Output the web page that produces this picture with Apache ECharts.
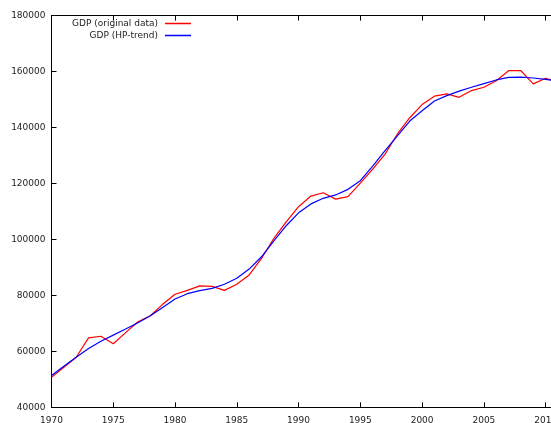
<!DOCTYPE html>
<html>
<head>
<meta charset="utf-8">
<script src="https://cdn.jsdelivr.net/npm/echarts@6/dist/echarts.min.js"></script>
<style>
html,body{margin:0;padding:0;background:#fff;}
#chart{width:551px;height:423px;}
</style>
</head>
<body>
<div id="chart"></div>
<script>
const years = [1970,1971,1972,1973,1974,1975,1976,1977,1978,1979,1980,1981,1982,1983,1984,1985,1986,1987,1988,1989,1990,1991,1992,1993,1994,1995,1996,1997,1998,1999,2000,2001,2002,2003,2004,2005,2006,2007,2008,2009,2010,2011];
const gdpOriginal = [50700,54300,57900,64800,65400,62700,66700,70600,72700,76800,80400,81800,83400,83200,81800,84000,87300,93200,100400,106300,111700,115500,116700,114400,115300,120100,125100,130500,137700,143500,148200,151200,152000,150800,153200,154400,156700,160300,160300,155600,157600,156200];
const gdpTrend = [51400,54700,57900,61000,63600,65800,68000,70200,72700,75700,78700,80600,81700,82500,84000,86100,89400,93800,99500,104900,109500,112700,114700,115900,117900,121000,126200,131700,137000,142300,146000,149500,151400,153000,154400,155700,157000,157900,158000,157700,157200,156600];
const seriesNames = ['GDP (original data)', 'GDP (HP-trend)'];

const font = 'DejaVu Sans';
const plain = v => String(v);
const chart = echarts.init(document.getElementById('chart'));
const legendBase = {
  orient: 'vertical', align: 'right', right: 360, padding: 0,
  icon: 'rect', itemWidth: 26, itemHeight: 1.5, itemGap: 4,
  textStyle: {fontFamily: font, fontSize: 9, color: '#222', padding: [0, 2, 0, 0]}
};
chart.setOption({
  animation: false,
  backgroundColor: '#fff',
  grid: {left: 51.5, right: -7, top: 15.6, bottom: 15.7, containLabel: false, outerBoundsMode: 'none'},
  legend: [
    Object.assign({}, legendBase, {data: [seriesNames[0]], top: 19}),
    Object.assign({}, legendBase, {data: [seriesNames[1]], top: 31})
  ],
  xAxis: [
    {type: 'value', min: 1970, max: 2011, interval: 5, position: 'bottom',
     axisLine: {lineStyle: {color: '#000', width: 1}},
     axisTick: {inside: true, length: 5, lineStyle: {color: '#000'}},
     axisLabel: {fontFamily: font, fontSize: 9, color: '#222', margin: 9, formatter: plain},
     splitLine: {show: false}},
    {type: 'value', min: 1970, max: 2011, interval: 5, position: 'top',
     axisLine: {show: true, onZero: false, lineStyle: {color: '#000', width: 1}},
     axisTick: {show: true, inside: true, length: 5, lineStyle: {color: '#000'}},
     axisLabel: {show: false},
     splitLine: {show: false}}
  ],
  yAxis: {type: 'value', min: 40000, max: 180000, interval: 20000,
    axisLine: {show: true, lineStyle: {color: '#000', width: 1}},
    axisTick: {show: true, inside: true, length: 5, lineStyle: {color: '#000'}},
    axisLabel: {fontFamily: font, fontSize: 9, color: '#222', margin: 6, formatter: plain},
    splitLine: {show: false}},
  series: [
    {name: seriesNames[0], type: 'line', showSymbol: false, symbol: 'none',
     data: years.map((y, i) => [y, gdpOriginal[i]]),
     itemStyle: {color: '#ff0000'}, lineStyle: {color: '#ff0000', width: 1.2}},
    {name: seriesNames[1], type: 'line', showSymbol: false, symbol: 'none',
     data: years.map((y, i) => [y, gdpTrend[i]]),
     itemStyle: {color: '#0000ff'}, lineStyle: {color: '#0000ff', width: 1.2}}
  ]
});
</script>
</body>
</html>
